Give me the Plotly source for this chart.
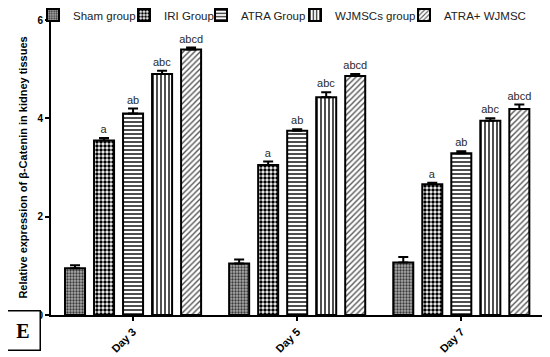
import plotly.graph_objects as go

days = ["Day 3", "Day 5", "Day 7"]
groups = ["Sham group", "IRI Group", "ATRA Group", "WJMSCs group", "ATRA+ WJMSC"]
values = {
    "Sham group":   [0.95, 1.05, 1.07],
    "IRI Group":    [3.55, 3.05, 2.66],
    "ATRA Group":   [4.10, 3.75, 3.29],
    "WJMSCs group": [4.90, 4.43, 3.95],
    "ATRA+ WJMSC":  [5.40, 4.86, 4.19],
}
errors = {
    "Sham group":   [0.06, 0.08, 0.11],
    "IRI Group":    [0.05, 0.07, 0.03],
    "ATRA Group":   [0.10, 0.03, 0.04],
    "WJMSCs group": [0.07, 0.10, 0.05],
    "ATRA+ WJMSC":  [0.04, 0.04, 0.09],
}
letters = {
    "Sham group":   ["", "", ""],
    "IRI Group":    ["a", "a", "a"],
    "ATRA Group":   ["ab", "ab", "ab"],
    "WJMSCs group": ["abc", "abc", "abc"],
    "ATRA+ WJMSC":  ["abcd", "abcd", "abcd"],
}
y_ticks = [0, 2, 4, 6]

patterns = {
    "Sham group":   dict(shape=".", fgcolor="#3a3a3a", bgcolor="#ababab", size=3, solidity=0.45, fillmode="replace"),
    "IRI Group":    dict(shape=".", fgcolor="#000", bgcolor="#fff", size=4, solidity=0.6, fillmode="replace"),
    "ATRA Group":   dict(shape="-", fgcolor="#222", bgcolor="#fff", size=4, solidity=0.4, fillmode="replace"),
    "WJMSCs group": dict(shape="|", fgcolor="#222", bgcolor="#fff", size=4, solidity=0.4, fillmode="replace"),
    "ATRA+ WJMSC":  dict(shape="/", fgcolor="#555", bgcolor="#fff", size=4, solidity=0.35, fillmode="replace"),
}
# page pixel where each legend label starts in the reference
legend_text_x = [87, 178, 255, 349, 458]

PAGE_OFF = 8  # default body margin of the html page
W, H = 550 - PAGE_OFF, 357 - PAGE_OFF

FONT = "Liberation Sans, Arial, sans-serif"
fig = go.Figure()
legend_ids = ["legend", "legend2", "legend3", "legend4", "legend5"]
for g, lid in zip(groups, legend_ids):
    fig.add_trace(go.Bar(
        x=days, y=values[g], name=g, offsetgroup=g, legend=lid,
        marker=dict(color="white", pattern=patterns[g], line=dict(color="black", width=2)),
        error_y=dict(type="data", symmetric=False, array=errors[g], arrayminus=[0, 0, 0],
                     color="black", thickness=2, width=5),
    ))
for g in groups:
    tops = [v + e for v, e in zip(values[g], errors[g])]
    fig.add_trace(go.Bar(
        x=days, y=tops, offsetgroup=g, showlegend=False, hoverinfo="skip",
        marker=dict(color="rgba(0,0,0,0)", line=dict(width=0)),
        text=letters[g], textposition="outside", cliponaxis=False, constraintext="none",
        textfont=dict(family=FONT, size=11, color="#2a2a2a"),
        outsidetextfont=dict(family=FONT, size=11, color="#2a2a2a"),
    ))

legend_layout = {}
for lid, tx in zip(legend_ids, legend_text_x):
    legend_layout[lid] = dict(
        xref="container", yref="container", x=(tx - PAGE_OFF - 54) / W, xanchor="left",
        y=1 - (15 - PAGE_OFF) / H, yanchor="middle", orientation="h",
        font=dict(size=11.5, color="#222", family=FONT), itemwidth=30,
        bgcolor="rgba(0,0,0,0)", borderwidth=0,
    )

fig.update_layout(
    width=W, height=H,
    margin=dict(l=51 - PAGE_OFF, r=5, t=20 - PAGE_OFF, b=42, autoexpand=False),
    paper_bgcolor="white", plot_bgcolor="white",
    barmode="group", bargap=0.116, bargroupgap=0.31,
    font=dict(family=FONT, color="black"),
    showlegend=True,
    **legend_layout,
)
fig.update_xaxes(
    showline=True, linecolor="black", linewidth=2, ticks="outside", ticklen=4, tickwidth=2,
    tickcolor="black", tickangle=-45, tickfont=dict(size=11, family=FONT, weight="bold"),
    range=[-0.5, 2.51], showgrid=False, automargin=False,
)
fig.update_yaxes(
    range=[0, 6], tickvals=y_ticks, showline=True, linecolor="black", linewidth=2,
    ticks="outside", ticklen=4, tickwidth=2, tickcolor="black", showgrid=False, zeroline=False,
    tickfont=dict(size=10, family=FONT, weight="bold"), automargin=False,
    title=dict(text="Relative expression of β-Catenin in kidney tissues", standoff=8,
               font=dict(size=11, family=FONT, weight="bold")),
)
fig.add_annotation(
    xref="paper", yref="paper", x=-0.093, y=-0.051, xanchor="left", yanchor="middle",
    text="<b>E</b>", showarrow=False, font=dict(family="Liberation Serif, Times New Roman, serif", size=20),
    bordercolor="black", borderwidth=1.5, borderpad=8, bgcolor="white", width=17, height=22,
)
fig.write_html("out.html")
